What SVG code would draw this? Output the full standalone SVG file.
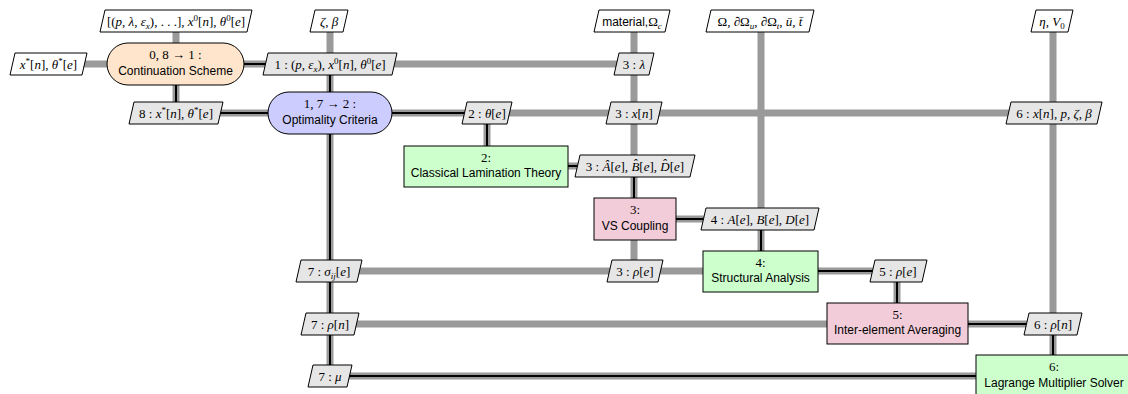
<svg xmlns="http://www.w3.org/2000/svg" width="1128" height="394" viewBox="0 0 1128 394">
<defs>
<style>
.d{stroke:#9a9a9a;stroke-width:7;fill:none;stroke-linecap:butt}
.p{stroke:#000;stroke-width:2;fill:none}
.db{fill:#e6e6e6;stroke:#000;stroke-width:1}
.io{fill:#fff;stroke:#000;stroke-width:1}
.m{font-family:"Liberation Serif",serif;font-size:13px;text-anchor:middle;fill:#000}
.s{font-family:"Liberation Sans",sans-serif;font-size:12px;text-anchor:middle;fill:#000}
.ss{font-family:"Liberation Sans",sans-serif;font-size:12px}
.i{font-style:italic}
.sm{font-size:9px}
.drv{fill:#ffe5cc;stroke:#000;stroke-width:1}
.opt{fill:#ccccff;stroke:#000;stroke-width:1}
.fn{fill:#ccffcc;stroke:#000;stroke-width:1}
.grp{fill:#f2ccd9;stroke:#000;stroke-width:1}
</style>
</defs>
<rect width="1128" height="394" fill="#fff"/>
<g id="connectors">
<path class="d" d="M48 64H634 M176 21V113 M176 113H1053 M330 21V376 M634 21V271 M761 21V271 M487 113V166H634 M634 219H761 M330 271H897V324 M330 324H1053 M1053 21V376 M330 376H1053"/>
<path class="p" d="M176 64H330 M330 64V376 M176 64V113H487V166H634V219H761V271H897V324H1053V376 M330 376H1053"/>
</g>
<g id="in_cont">
<polygon class="io" points="105,10 252,10 247,32 100,32"/>
<text class="m" x="176" y="25.5">[(<tspan class="i">p</tspan>, <tspan class="i">λ</tspan>, <tspan class="i">ε</tspan><tspan class="i sm" dy="3">x</tspan><tspan dy="-3">), . . .], </tspan><tspan class="i">x</tspan><tspan class="sm" dy="-5">0</tspan><tspan dy="5">[</tspan><tspan class="i">n</tspan>], <tspan class="i">θ</tspan><tspan class="sm" dy="-5">0</tspan><tspan dy="5">[</tspan><tspan class="i">e</tspan>]</text>
</g>
<g id="in_opt">
<polygon class="io" points="315,10 348,10 343,32 310,32"/>
<text class="m" x="329" y="25.5"><tspan class="i">ζ</tspan>, <tspan class="i">β</tspan></text>
</g>
<g id="in_vs">
<polygon class="io" points="599,10 670,10 665,32 594,32"/>
<text class="m" x="632" y="25.5"><tspan class="ss">material,</tspan>Ω<tspan class="i sm" dy="3">c</tspan></text>
</g>
<g id="in_sa">
<polygon class="io" points="711,10 814,10 809,32 706,32"/>
<text class="m" x="760" y="25.5">Ω, ∂Ω<tspan class="i sm" dy="3">u</tspan><tspan dy="-3">, ∂Ω</tspan><tspan class="i sm" dy="3">t</tspan><tspan dy="-3">, </tspan><tspan class="i">ū</tspan>, <tspan class="i">t̄</tspan></text>
</g>
<g id="in_lag">
<polygon class="io" points="1036,10 1073,10 1068,32 1031,32"/>
<text class="m" x="1052" y="25.5"><tspan class="i">η</tspan>, <tspan class="i">V</tspan><tspan class="sm" dy="3">0</tspan></text>
</g>
<g id="out_cont">
<polygon class="io" points="15,53 87,53 82,75 10,75"/>
<text class="m" x="48.5" y="68.5"><tspan class="i">x</tspan><tspan class="sm" dy="-5">*</tspan><tspan dy="5">[</tspan><tspan class="i">n</tspan>], <tspan class="i">θ</tspan><tspan class="sm" dy="-5">*</tspan><tspan dy="5">[</tspan><tspan class="i">e</tspan>]</text>
</g>
<g id="cont">
<rect class="drv" x="107" y="43" width="137" height="42" rx="21"/>
<text class="m" x="175.5" y="59">0, 8 → 1 :</text>
<text class="s" x="175.5" y="74.5">Continuation Scheme</text>
</g>
<g id="d_cont_opt">
<polygon class="db" points="268,53 397,53 392,75 263,75"/>
<text class="m" x="330" y="68.5">1 : (<tspan class="i">p</tspan>, <tspan class="i">ε</tspan><tspan class="i sm" dy="3">x</tspan><tspan dy="-3">), </tspan><tspan class="i">x</tspan><tspan class="sm" dy="-5">0</tspan><tspan dy="5">[</tspan><tspan class="i">n</tspan>], <tspan class="i">θ</tspan><tspan class="sm" dy="-5">0</tspan><tspan dy="5">[</tspan><tspan class="i">e</tspan>]</text>
</g>
<g id="d_cont_vs">
<polygon class="db" points="619,53 654,53 649,75 614,75"/>
<text class="m" x="634" y="68.5">3 : <tspan class="i">λ</tspan></text>
</g>
<g id="d_opt_cont">
<polygon class="db" points="134,102 223,102 218,124 129,124"/>
<text class="m" x="176" y="117.5">8 : <tspan class="i">x</tspan><tspan class="sm" dy="-5">*</tspan><tspan dy="5">[</tspan><tspan class="i">n</tspan>], <tspan class="i">θ</tspan><tspan class="sm" dy="-5">*</tspan><tspan dy="5">[</tspan><tspan class="i">e</tspan>]</text>
</g>
<g id="opt">
<rect class="opt" x="268" y="92" width="124" height="42" rx="21"/>
<text class="m" x="330" y="108">1, 7 → 2 :</text>
<text class="s" x="330" y="123.5">Optimality Criteria</text>
</g>
<g id="d_opt_clt">
<polygon class="db" points="467,102 512,102 507,124 462,124"/>
<text class="m" x="487" y="117.5">2 : <tspan class="i">θ</tspan>[<tspan class="i">e</tspan>]</text>
</g>
<g id="d_opt_vs">
<polygon class="db" points="611,102 662,102 657,124 606,124"/>
<text class="m" x="634" y="117.5">3 : <tspan class="i">x</tspan>[<tspan class="i">n</tspan>]</text>
</g>
<g id="d_opt_lag">
<polygon class="db" points="1011,102 1102,102 1097,124 1006,124"/>
<text class="m" x="1054" y="117.5">6 : <tspan class="i">x</tspan>[<tspan class="i">n</tspan>], <tspan class="i">p</tspan>, <tspan class="i">ζ</tspan>, <tspan class="i">β</tspan></text>
</g>
<g id="clt">
<rect class="fn" x="404" y="146" width="164" height="41"/>
<text class="m" x="486" y="161.5">2:</text>
<text class="s" x="486" y="177">Classical Lamination Theory</text>
</g>
<g id="d_clt_vs">
<polygon class="db" points="580,155 695,155 690,177 575,177"/>
<text class="m" x="635" y="170.5">3 : <tspan class="i">Â</tspan>[<tspan class="i">e</tspan>], <tspan class="i">B̂</tspan>[<tspan class="i">e</tspan>], <tspan class="i">D̂</tspan>[<tspan class="i">e</tspan>]</text>
</g>
<g id="vs">
<rect class="grp" x="594" y="198" width="82" height="42"/>
<text class="m" x="635" y="214">3:</text>
<text class="s" x="635" y="229.5">VS Coupling</text>
</g>
<g id="d_vs_sa">
<polygon class="db" points="706,208 819,208 814,230 701,230"/>
<text class="m" x="760" y="223.5">4 : <tspan class="i">A</tspan>[<tspan class="i">e</tspan>], <tspan class="i">B</tspan>[<tspan class="i">e</tspan>], <tspan class="i">D</tspan>[<tspan class="i">e</tspan>]</text>
</g>
<g id="d_sa_opt">
<polygon class="db" points="301,260 362,260 357,282 296,282"/>
<text class="m" x="329" y="275.5">7 : <tspan class="i">σ</tspan><tspan class="i sm" dy="3">ij</tspan><tspan dy="-3">[</tspan><tspan class="i">e</tspan>]</text>
</g>
<g id="d_sa_vs">
<polygon class="db" points="612,260 663,260 658,282 607,282"/>
<text class="m" x="635" y="275.5">3 : <tspan class="i">ρ</tspan>[<tspan class="i">e</tspan>]</text>
</g>
<g id="sa">
<rect class="fn" x="703" y="251" width="115" height="41"/>
<text class="m" x="760.5" y="266.5">4:</text>
<text class="s" x="760.5" y="282">Structural Analysis</text>
</g>
<g id="d_sa_ie">
<polygon class="db" points="875,260 927,260 922,282 870,282"/>
<text class="m" x="898" y="275.5">5 : <tspan class="i">ρ</tspan>[<tspan class="i">e</tspan>]</text>
</g>
<g id="d_ie_opt">
<polygon class="db" points="306,313 359,313 354,335 301,335"/>
<text class="m" x="330" y="328.5">7 : <tspan class="i">ρ</tspan>[<tspan class="i">n</tspan>]</text>
</g>
<g id="ie">
<rect class="grp" x="827" y="303" width="141" height="41"/>
<text class="m" x="897.5" y="318.5">5:</text>
<text class="s" x="897.5" y="334">Inter-element Averaging</text>
</g>
<g id="d_ie_lag">
<polygon class="db" points="1029,313 1082,313 1077,335 1024,335"/>
<text class="m" x="1053" y="328.5">6 : <tspan class="i">ρ</tspan>[<tspan class="i">n</tspan>]</text>
</g>
<g id="d_lag_opt">
<polygon class="db" points="313,365 352,365 347,387 308,387"/>
<text class="m" x="330" y="380.5">7 : <tspan class="i">μ</tspan></text>
</g>
<g id="lag">
<rect class="fn" x="976" y="355" width="154" height="42"/>
<text class="m" x="1054" y="371">6:</text>
<text class="s" x="1054" y="386.5">Lagrange Multiplier Solver</text>
</g>
</svg>
